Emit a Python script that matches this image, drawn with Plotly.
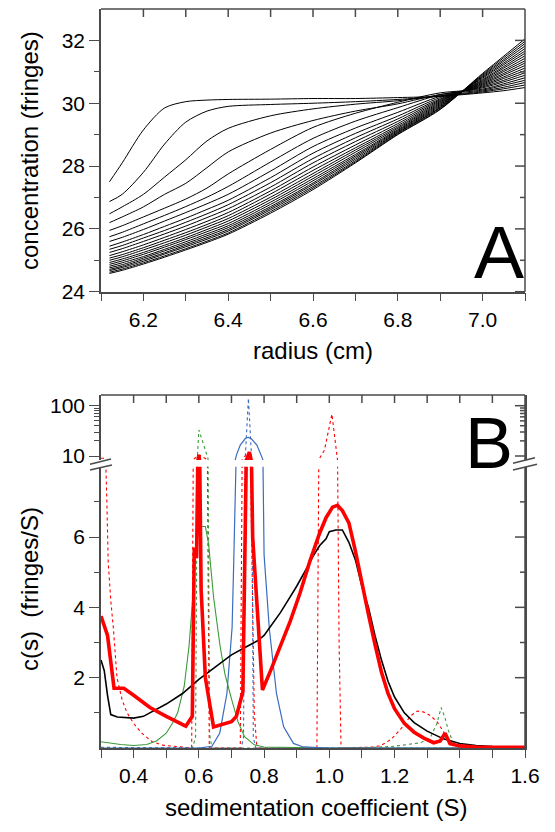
import math
import plotly.graph_objects as go

# ---------------- Panel A data: radial concentration scans ----------------
radius = [6.12, 6.15, 6.2, 6.25, 6.3, 6.35, 6.4, 6.5, 6.6, 6.7, 6.8, 6.9, 7.0, 7.05, 7.1]
scan01 = [27.50, 28.10, 29.15, 29.85, 30.05, 30.10, 30.12, 30.13, 30.15, 30.15, 30.18, 30.22, 30.33, 30.40, 30.50]
scan02 = [26.87, 27.10, 27.80, 28.70, 29.40, 29.75, 29.90, 29.96, 30.00, 30.05, 30.12, 30.22, 30.36, 30.46, 30.58]
scan03 = [26.48, 26.70, 27.10, 27.65, 28.20, 28.80, 29.20, 29.60, 29.82, 29.97, 30.08, 30.24, 30.39, 30.51, 30.66]
scan04 = [26.20, 26.38, 26.70, 27.10, 27.45, 27.95, 28.45, 29.05, 29.45, 29.75, 29.98, 30.28, 30.42, 30.57, 30.73]
scan05 = [25.95, 26.10, 26.38, 26.66, 26.95, 27.30, 27.75, 28.53, 29.23, 29.68, 30.03, 30.33, 30.45, 30.62, 30.81]
scan06 = [25.75, 25.89, 26.16, 26.43, 26.71, 27.01, 27.35, 28.13, 28.88, 29.43, 29.86, 30.27, 30.49, 30.68, 30.89]
scan07 = [25.60, 25.73, 25.98, 26.25, 26.52, 26.80, 27.10, 27.84, 28.62, 29.21, 29.71, 30.22, 30.52, 30.73, 30.97]
scan08 = [25.45, 25.58, 25.82, 26.08, 26.34, 26.62, 26.91, 27.63, 28.41, 29.04, 29.59, 30.18, 30.55, 30.79, 31.04]
scan09 = [25.35, 25.47, 25.71, 25.95, 26.21, 26.48, 26.77, 27.47, 28.24, 28.90, 29.50, 30.14, 30.58, 30.84, 31.12]
scan10 = [25.25, 25.37, 25.60, 25.84, 26.09, 26.36, 26.64, 27.33, 28.10, 28.78, 29.42, 30.11, 30.61, 30.90, 31.20]
scan11 = [25.15, 25.27, 25.49, 25.73, 25.98, 26.24, 26.52, 27.21, 27.97, 28.67, 29.35, 30.08, 30.64, 30.95, 31.28]
scan12 = [25.07, 25.18, 25.40, 25.64, 25.88, 26.14, 26.42, 27.11, 27.86, 28.58, 29.29, 30.05, 30.67, 31.01, 31.35]
scan13 = [25.00, 25.11, 25.33, 25.56, 25.80, 26.06, 26.33, 27.01, 27.76, 28.51, 29.24, 30.02, 30.70, 31.06, 31.43]
scan14 = [24.93, 25.04, 25.25, 25.48, 25.72, 25.98, 26.25, 26.93, 27.68, 28.44, 29.20, 29.99, 30.73, 31.12, 31.51]
scan15 = [24.87, 24.98, 25.19, 25.42, 25.66, 25.91, 26.17, 26.85, 27.60, 28.37, 29.16, 29.96, 30.76, 31.17, 31.59]
scan16 = [24.81, 24.92, 25.12, 25.35, 25.59, 25.84, 26.10, 26.78, 27.53, 28.32, 29.13, 29.93, 30.80, 31.23, 31.66]
scan17 = [24.76, 24.86, 25.07, 25.30, 25.53, 25.78, 26.04, 26.71, 27.46, 28.27, 29.10, 29.90, 30.83, 31.28, 31.74]
scan18 = [24.71, 24.81, 25.02, 25.24, 25.48, 25.72, 25.98, 26.66, 27.41, 28.22, 29.07, 29.87, 30.86, 31.34, 31.82]
scan19 = [24.67, 24.77, 24.97, 25.20, 25.43, 25.67, 25.93, 26.61, 27.35, 28.17, 29.05, 29.85, 30.89, 31.39, 31.90]
scan20 = [24.62, 24.72, 24.92, 25.14, 25.37, 25.61, 25.87, 26.55, 27.30, 28.13, 29.02, 29.82, 30.92, 31.45, 31.97]
scan21 = [24.58, 24.68, 24.88, 25.10, 25.33, 25.57, 25.83, 26.50, 27.25, 28.10, 29.00, 29.80, 30.95, 31.50, 32.05]
scans = [scan01, scan02, scan03, scan04, scan05, scan06, scan07, scan08, scan09, scan10, scan11,
         scan12, scan13, scan14, scan15, scan16, scan17, scan18, scan19, scan20, scan21]

a_xtick_vals = [6.1, 6.2, 6.3, 6.4, 6.5, 6.6, 6.7, 6.8, 6.9, 7.0, 7.1]
a_xtick_text = ["", "6.2", "", "6.4", "", "6.6", "", "6.8", "", "7.0", ""]
a_ytick_vals = [24, 26, 28, 30, 32]
a_ytick_text = ["24", "26", "28", "30", "32"]
a_yminor_vals = [25, 27, 29, 31]

# ---------------- Panel B data: c(s) distributions ----------------
s_black = [0.30, 0.31, 0.32, 0.33, 0.35, 0.38, 0.40, 0.43, 0.46, 0.50, 0.55, 0.60, 0.65, 0.70, 0.75,
           0.78, 0.80, 0.82, 0.85, 0.88, 0.90, 0.93, 0.95, 0.97, 0.99, 1.00, 1.02, 1.04, 1.06, 1.08,
           1.10, 1.12, 1.14, 1.16, 1.18, 1.20, 1.23, 1.26, 1.30, 1.35, 1.40, 1.45, 1.50, 1.60]
c_black = [2.50, 2.20, 1.50, 0.95, 0.88, 0.85, 0.85, 0.90, 1.05, 1.25, 1.55, 1.95, 2.30, 2.65, 2.90,
           3.05, 3.20, 3.45, 3.85, 4.30, 4.60, 5.10, 5.45, 5.75, 5.95, 6.15, 6.20, 6.20, 5.85, 5.35,
           4.60, 4.00, 3.20, 2.50, 1.90, 1.45, 1.00, 0.72, 0.48, 0.26, 0.13, 0.07, 0.04, 0.02]

s_red = [0.30, 0.32, 0.34, 0.37, 0.40, 0.45, 0.50, 0.56, 0.58, 0.586, 0.593, 0.600, 0.607, 0.62, 0.645,
         0.70, 0.715, 0.735, 0.745, 0.755, 0.765, 0.795, 0.82, 0.85, 0.88, 0.91, 0.94, 0.97, 0.99, 1.01,
         1.025, 1.04, 1.06, 1.08, 1.10, 1.12, 1.14, 1.16, 1.18, 1.20, 1.23, 1.26, 1.29, 1.32, 1.34,
         1.355, 1.37, 1.40, 1.45, 1.50, 1.60]
c_red = [3.75, 3.20, 1.70, 1.70, 1.50, 1.15, 0.90, 0.62, 0.90, 5.70, 5.40, 10.5, 4.50, 2.00, 0.60,
         0.75, 0.90, 1.60, 8.00, 12.0, 6.00, 1.65, 2.20, 2.90, 3.60, 4.40, 5.30, 6.10, 6.55, 6.85,
         6.90, 6.75, 6.40, 5.60, 4.65, 3.80, 2.95, 2.15, 1.55, 1.12, 0.70, 0.45, 0.28, 0.15, 0.20,
         0.42, 0.12, 0.06, 0.03, 0.02, 0.02]

s_green = [0.30, 0.33, 0.36, 0.40, 0.44, 0.47, 0.50, 0.52, 0.535, 0.555, 0.57, 0.58, 0.59, 0.60, 0.62,
           0.63, 0.645, 0.665, 0.68, 0.70, 0.72, 0.74, 0.77, 0.80, 0.90, 1.00, 1.20, 1.40, 1.60]
c_green = [0.18, 0.14, 0.10, 0.07, 0.10, 0.20, 0.42, 0.72, 1.00, 1.75, 2.90, 4.10, 5.60, 6.30, 6.30,
           5.80, 4.30, 2.90, 2.10, 1.40, 0.75, 0.32, 0.09, 0.03, 0.01, 0.0, 0.0, 0.0, 0.0]

s_green_dot = [0.30, 0.58, 0.59, 0.595, 0.600, 0.628, 0.633, 0.64, 1.10, 1.20, 1.28, 1.31, 1.33,
               1.343, 1.355, 1.365, 1.38, 1.40, 1.45, 1.60]
c_green_dot = [0.02, 0.0, 0.3, 8.0, 33.0, 9.0, 0.4, 0.0, 0.0, 0.05, 0.15, 0.30, 0.70,
               1.15, 0.85, 0.50, 0.15, 0.05, 0.0, 0.0]

s_blue = [0.30, 0.60, 0.64, 0.664, 0.686, 0.702, 0.707, 0.712, 0.716, 0.727, 0.743, 0.752, 0.761,
          0.778, 0.790, 0.796, 0.800, 0.816, 0.838, 0.86, 0.89, 0.92, 1.00, 1.60]
c_blue = [0.0, 0.0, 0.05, 0.42, 1.55, 3.43, 5.30, 8.60, 10.8, 16.5, 22.5, 23.5, 22.0,
          16.5, 11.0, 8.60, 5.50, 3.40, 1.55, 0.60, 0.13, 0.03, 0.0, 0.0]

s_blue_dot = [0.30, 0.73, 0.737, 0.742, 0.752, 0.762, 0.767, 0.775, 1.60]
c_blue_dot = [0.0, 0.0, 0.3, 8.5, 140.0, 8.5, 0.3, 0.0, 0.0]

s_red_dot = [0.300, 0.312, 0.318, 0.322, 0.330, 0.338, 0.349, 0.365, 0.38, 0.40, 0.425, 0.457, 0.49,
             0.55, 0.578, 0.583, 0.600, 0.626, 0.632, 0.70, 0.727, 0.733, 0.752, 0.770, 0.778, 0.95,
             0.962, 0.968, 0.985, 1.008, 1.025, 1.030, 1.036, 1.14, 1.16, 1.19, 1.22, 1.25, 1.27,
             1.29, 1.31, 1.33, 1.35, 1.37, 1.39, 1.42, 1.60]
c_red_dot = [9.0, 9.0, 7.0, 5.3, 4.2, 3.4, 2.0, 1.36, 1.0, 0.70, 0.42, 0.18, 0.08,
             0.02, 0.0, 8.5, 10.5, 8.5, 0.0, 0.0, 0.0, 8.5, 12.0, 1.0, 0.0, 0.0,
             0.0, 8.5, 13.0, 68.0, 8.5, 3.0, 0.0, 0.03, 0.08, 0.25, 0.55, 0.92, 1.05,
             1.02, 0.92, 0.75, 0.45, 0.18, 0.05, 0.01, 0.0]

b_xtick_vals = [0.3, 0.4, 0.5, 0.6, 0.7, 0.8, 0.9, 1.0, 1.1, 1.2, 1.3, 1.4, 1.5, 1.6]
b_xtick_text = ["", "0.4", "", "0.6", "", "0.8", "", "1.0", "", "1.2", "", "1.4", "", "1.6"]
b_ytick_vals = [2, 4, 6]
b_ytick_text = ["2", "4", "6"]
b_yminor_vals = [1, 3, 5, 7]
b_logtick_vals = [10, 100]
b_logtick_text = ["10", "100"]
b_logminor_vals = [20, 30, 40, 50, 60, 70, 80, 90]

# ---------------- layout geometry (reference-page pixel coordinates) ----------------
PAGE_OFF = 8                      # the page body margin shifts the figure by 8 px
W, H = 555 - PAGE_OFF, 832 - PAGE_OFF
PLOT_L, PLOT_R, PLOT_T, PLOT_B = 101, 525, 9, 748    # plot area on the page
PW, PH = PLOT_R - PLOT_L, PLOT_B - PLOT_T
ML = PLOT_L - PAGE_OFF
MT = PLOT_T - PAGE_OFF
MR = W - ML - PW
MB = H - MT - PH


def px_x(px):
    return (px - PLOT_L) / PW


def px_y(py):
    return (PLOT_B - py) / PH


AX = "#4a4a4a"
TICKFONT = dict(family="Liberation Sans, Arial, sans-serif", size=21, color="black")
TITLEFONT = dict(family="Liberation Sans, Arial, sans-serif", size=24, color="black")
RED, GREEN, BLUE = "#ff0000", "#3a9a3a", "#3b6cc0"

fig = go.Figure()

for sc in scans:
    fig.add_trace(go.Scatter(x=radius, y=sc, mode="lines", xaxis="x", yaxis="y",
                             line=dict(color="black", width=1, shape="spline", smoothing=0.8),
                             showlegend=False, hoverinfo="skip"))

# Panel B curves: drawn on both the linear (y2) and the log (y3) segment of the broken axis
series_b = [
    (s_red_dot, c_red_dot, dict(color=RED, width=1.1, dash="dot")),
    (s_green_dot, c_green_dot, dict(color=GREEN, width=1.1, dash="dot")),
    (s_blue_dot, c_blue_dot, dict(color=BLUE, width=1.1, dash="dot")),
    (s_green, c_green, dict(color=GREEN, width=1.1)),
    (s_blue, c_blue, dict(color=BLUE, width=1.2)),
    (s_black, c_black, dict(color="black", width=1.6)),
    (s_red, c_red, dict(color=RED, width=3.6)),
]
for yax in ("y2", "y3"):
    for sx, cy, ln in series_b:
        fig.add_trace(go.Scatter(x=sx, y=cy, mode="lines", xaxis="x2", yaxis=yax, line=ln,
                                 showlegend=False, hoverinfo="skip"))

common = dict(showline=True, linecolor=AX, linewidth=1.5, tickcolor=AX, tickwidth=1.3,
              showgrid=False, zeroline=False, tickfont=TICKFONT)


def minor_ticks(vals):
    return dict(tickmode="array", tickvals=vals, ticks="outside", ticklen=5, tickcolor=AX, tickwidth=1.3)


A_TOP, A_BOT = PLOT_T, 291.7
BU_TOP, BU_BOT = 395.0, 460.0
BL_TOP = 466.7
a_dom = [px_y(A_BOT), px_y(A_TOP)]
b_low = [0.0, px_y(BL_TOP)]
b_up = [px_y(BU_BOT), px_y(BU_TOP)]
a_xr = [6.1, 7.1]
a_yr = [24, 33]
b_xr = [0.3, 1.6]
b_yr = [0, 8.0]
b_lr = [0.9205, 2.2127]

fig.update_layout(
    width=W, height=H, margin=dict(l=ML, r=MR, t=MT, b=MB, pad=0),
    paper_bgcolor="white", plot_bgcolor="white", showlegend=False,
    xaxis=dict(common, domain=[0, 1], anchor="y", range=a_xr, tickmode="array",
               tickvals=a_xtick_vals, ticktext=a_xtick_text, ticks="outside", ticklen=8),
    yaxis=dict(common, domain=a_dom, anchor="x", range=a_yr, tickmode="array",
               tickvals=a_ytick_vals, ticktext=a_ytick_text, ticks="outside", ticklen=10,
               minor=minor_ticks(a_yminor_vals)),
    xaxis2=dict(common, domain=[0, 1], anchor="y2", range=b_xr, tickmode="array",
                tickvals=b_xtick_vals, ticktext=b_xtick_text, ticks="outside", ticklen=8),
    yaxis2=dict(common, domain=b_low, anchor="x2", range=b_yr, tickmode="array",
                tickvals=b_ytick_vals, ticktext=b_ytick_text, ticks="outside", ticklen=10,
                minor=minor_ticks(b_yminor_vals), mirror=True),
    yaxis3=dict(common, domain=b_up, anchor="x2", type="log", range=b_lr, tickmode="array",
                tickvals=b_logtick_vals, ticktext=b_logtick_text, ticks="outside", ticklen=10,
                minor=minor_ticks(b_logminor_vals), mirror=True),
)

# ---- frame lines on the top/right sides and their inward-pointing ticks (paper coordinates,
#      positions taken from each axis' range and domain) ----
LINE = dict(color=AX, width=1.5)


def seg(x0, y0, x1, y1):
    fig.add_shape(type="line", xref="paper", yref="paper", x0=x0, y0=y0, x1=x1, y1=y1,
                  line=LINE, layer="above")


def fx(v, rng):
    return (v - rng[0]) / (rng[1] - rng[0])


def fy(v, rng, dom, log=False):
    t = (math.log10(v) if log else v)
    return dom[0] + (t - rng[0]) / (rng[1] - rng[0]) * (dom[1] - dom[0])


# panel A
seg(0, a_dom[1], 1, a_dom[1])
seg(1, a_dom[0], 1, a_dom[1])
for v in a_xtick_vals[1:-1]:
    seg(fx(v, a_xr), a_dom[1], fx(v, a_xr), a_dom[1] - 8 / PH)
for v in a_ytick_vals:
    seg(1, fy(v, a_yr, a_dom), 1 - 10 / PW, fy(v, a_yr, a_dom))
for v in a_yminor_vals:
    seg(1, fy(v, a_yr, a_dom), 1 - 5 / PW, fy(v, a_yr, a_dom))
# panel B
seg(0, b_up[1], 1, b_up[1])
seg(1, b_up[0], 1, b_up[1])
seg(1, b_low[0], 1, b_low[1])
for v in b_xtick_vals[1:-1]:
    seg(fx(v, b_xr), b_up[1], fx(v, b_xr), b_up[1] - 8 / PH)
for v in b_ytick_vals:
    seg(1, fy(v, b_yr, b_low), 1 - 10 / PW, fy(v, b_yr, b_low))
for v in b_yminor_vals:
    seg(1, fy(v, b_yr, b_low), 1 - 5 / PW, fy(v, b_yr, b_low))
for v in b_logtick_vals:
    seg(1, fy(v, b_lr, b_up, True), 1 - 10 / PW, fy(v, b_lr, b_up, True))
for v in b_logminor_vals:
    seg(1, fy(v, b_lr, b_up, True), 1 - 5 / PW, fy(v, b_lr, b_up, True))

# axis-break marks
for (x0, y0, x1, y1) in [(90, 464.3, 111, 459.0), (90, 470.0, 112, 465.0),
                         (513, 463.3, 535, 457.7), (513, 470.0, 537, 464.3)]:
    seg(px_x(x0), px_y(y0), px_x(x1), px_y(y1))

# axis titles and panel letters
ann = [
    dict(text="concentration (fringes)", x=px_x(29), y=px_y(151), textangle=-90, font=TITLEFONT),
    dict(text="radius (cm)", x=px_x(313), y=px_y(351), font=TITLEFONT),
    dict(text="c(s)  (fringes/S)", x=px_x(29), y=px_y(589), textangle=-90, font=TITLEFONT),
    dict(text="sedimentation coefficient (S)", x=px_x(316), y=px_y(807), font=TITLEFONT),
]
for a in ann:
    fig.add_annotation(xref="paper", yref="paper", showarrow=False, xanchor="center",
                       yanchor="middle", **a)
fig.add_annotation(text="A", xref="paper", yref="paper", x=px_x(526), y=px_y(296),
                   xanchor="right", yanchor="bottom", showarrow=False,
                   font=dict(family="Liberation Sans, Arial, sans-serif", size=75, color="black"))
fig.add_annotation(text="B", xref="paper", yref="paper", x=px_x(515), y=px_y(485),
                   xanchor="right", yanchor="bottom", showarrow=False,
                   font=dict(family="Liberation Sans, Arial, sans-serif", size=72, color="black"))

fig.write_html("out.html")
